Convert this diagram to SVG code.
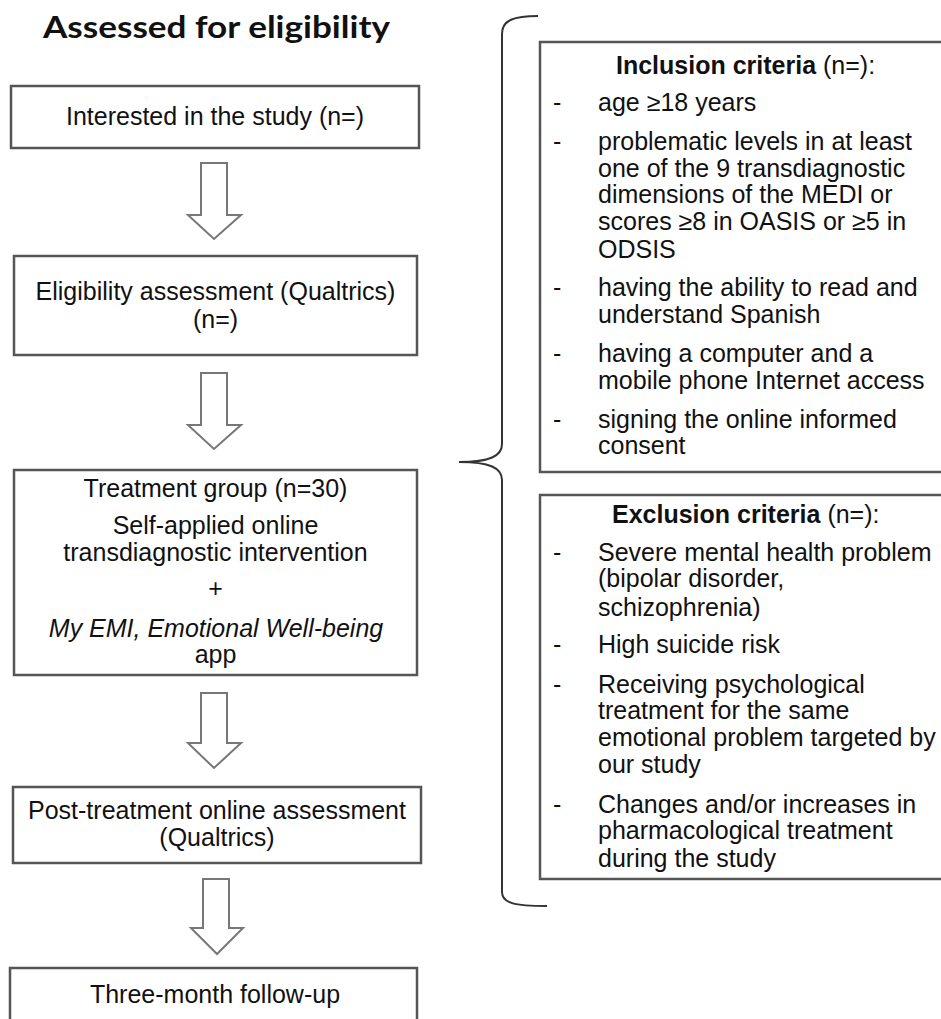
<svg xmlns="http://www.w3.org/2000/svg" width="941" height="1019" viewBox="0 0 941 1019">
<style>
.box{fill:#fff;stroke:#555;stroke-width:2.5}
.arr{fill:#fff;stroke:#777;stroke-width:2;stroke-linejoin:miter}
.t{font-family:"Liberation Sans",Arial,sans-serif;font-size:25px;fill:#111}
.c{text-anchor:middle}
.title{font-family:Lato,"Open Sans",sans-serif;font-weight:bold;font-size:30px;fill:#111}
.brace{fill:none;stroke:#333;stroke-width:2}
</style>
<rect width="941" height="1019" fill="#fff"/>
<text class="title" x="43" y="38" textLength="347" lengthAdjust="spacingAndGlyphs">Assessed for eligibility</text>

<g id="connectors">
<path class="arr" d="M201,163 H227 V215 H241 L214,239 L188,215 H201 Z"/>
<path class="arr" d="M201,373 H227 V425 H241 L214,449 L188,425 H201 Z"/>
<path class="arr" d="M201,693 H227 V743 H241 L214,768 L188,743 H201 Z"/>
<path class="arr" d="M203,879 H229 V928 H243 L217,954 L191,928 H203 Z"/>
<path class="brace" d="M538,16 C514,16 502,20 502,34 L502,444 C502,456 490,462 459,462 C490,462 502,468 502,480 L502,892 C502,903 514,906 547,906"/>
</g>

<g id="n1">
<rect class="box" x="11" y="86" width="408" height="62"/>
<text class="t c" x="215" y="125">Interested in the study (n=)</text>
</g>
<g id="n2">
<rect class="box" x="14" y="256" width="403" height="99"/>
<text class="t c" x="215.5" y="300">Eligibility assessment (Qualtrics)</text>
<text class="t c" x="215.5" y="328">(n=)</text>
</g>
<g id="n3">
<rect class="box" x="14" y="470" width="403" height="205"/>
<text class="t c" x="215.5" y="497">Treatment group (n=30)</text>
<text class="t c" x="215.5" y="534">Self-applied online</text>
<text class="t c" x="215.5" y="561">transdiagnostic intervention</text>
<text class="t c" x="215.5" y="597">+</text>
<text class="t c" x="216" y="637" font-style="italic">My EMI, Emotional Well-being</text>
<text class="t c" x="215.5" y="663">app</text>
</g>
<g id="n4">
<rect class="box" x="13" y="787" width="408" height="76"/>
<text class="t c" x="217" y="819">Post-treatment online assessment</text>
<text class="t c" x="217" y="846">(Qualtrics)</text>
</g>
<g id="n5">
<rect class="box" x="10" y="968" width="407" height="70"/>
<text class="t c" x="215" y="1003">Three-month follow-up</text>
</g>

<g id="inclusion">
<rect class="box" x="540" y="42" width="420" height="430"/>
<text class="t" x="616" y="74"><tspan font-weight="bold">Inclusion criteria</tspan> (n=):</text>
<text class="t" x="553" y="111">-</text>
<text class="t" x="598" y="111">age ≥18 years</text>
<text class="t" x="553" y="150">-</text>
<text class="t" x="598" y="150">problematic levels in at least</text>
<text class="t" x="598" y="177">one of the 9 transdiagnostic</text>
<text class="t" x="598" y="203">dimensions of the MEDI or</text>
<text class="t" x="598" y="230">scores ≥8 in OASIS or ≥5 in</text>
<text class="t" x="598" y="258">ODSIS</text>
<text class="t" x="553" y="296">-</text>
<text class="t" x="598" y="296">having the ability to read and</text>
<text class="t" x="598" y="323">understand Spanish</text>
<text class="t" x="553" y="362">-</text>
<text class="t" x="598" y="362">having a computer and a</text>
<text class="t" x="598" y="389">mobile phone Internet access</text>
<text class="t" x="553" y="428">-</text>
<text class="t" x="598" y="428">signing the online informed</text>
<text class="t" x="598" y="454">consent</text>
</g>

<g id="exclusion">
<rect class="box" x="540" y="495" width="420" height="384"/>
<text class="t" x="612" y="523"><tspan font-weight="bold">Exclusion criteria</tspan> (n=):</text>
<text class="t" x="553" y="561">-</text>
<text class="t" x="598" y="561">Severe mental health problem</text>
<text class="t" x="598" y="587">(bipolar disorder,</text>
<text class="t" x="598" y="616">schizophrenia)</text>
<text class="t" x="553" y="653">-</text>
<text class="t" x="598" y="653">High suicide risk</text>
<text class="t" x="553" y="693">-</text>
<text class="t" x="598" y="693">Receiving psychological</text>
<text class="t" x="598" y="719">treatment for the same</text>
<text class="t" x="598" y="746">emotional problem targeted by</text>
<text class="t" x="598" y="773">our study</text>
<text class="t" x="553" y="813">-</text>
<text class="t" x="598" y="813">Changes and/or increases in</text>
<text class="t" x="598" y="839">pharmacological treatment</text>
<text class="t" x="598" y="867">during the study</text>
</g>
</svg>
